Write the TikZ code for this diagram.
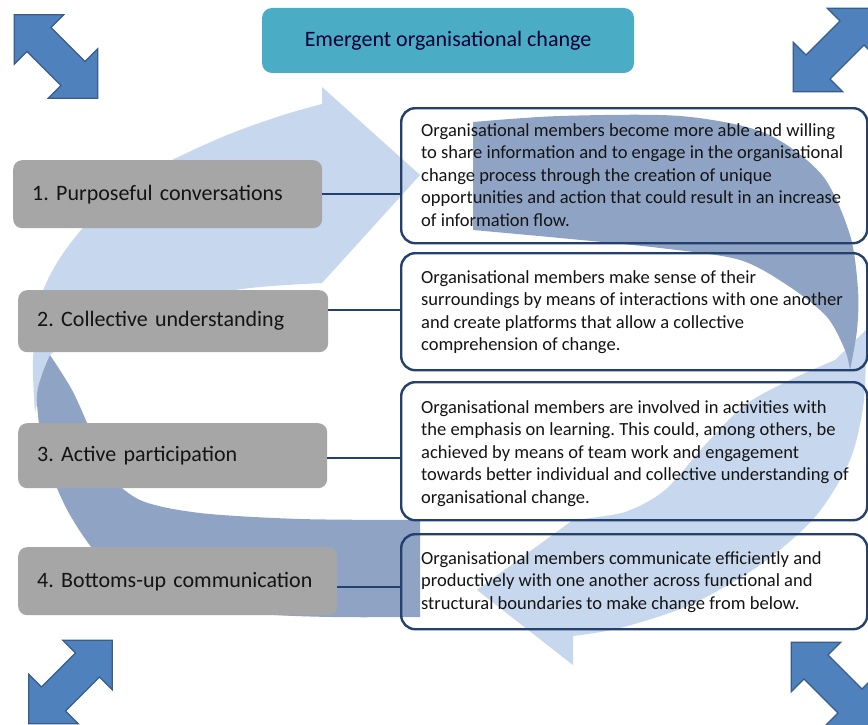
\documentclass[tikz,border=0pt]{standalone}
\usepackage{fontspec}
\setmainfont{Carlito}
\usepackage{xcolor}
\usetikzlibrary{positioning}
\definecolor{ringlight}{RGB}{198,215,238}
\definecolor{ringdark}{RGB}{143,164,197}
\definecolor{stagegray}{RGB}{166,166,166}
\definecolor{framenavy}{RGB}{36,64,108}
\definecolor{titleteal}{RGB}{75,172,198}
\definecolor{cornerblue}{RGB}{79,129,189}
\definecolor{cornerline}{RGB}{56,93,138}
\definecolor{inkdark}{RGB}{20,20,20}
\frenchspacing

\tikzset{
  dblarrow/.pic={
    \filldraw[fill=cornerblue,draw=cornerline,line width=1.2pt,line join=miter]
      (-59,0) -- (-24,35) -- (-24,17) -- (24,17) -- (24,35) -- (59,0)
      -- (24,-35) -- (24,-17) -- (-24,-17) -- (-24,-35) -- cycle;
  }
}

\begin{document}
\begin{tikzpicture}[x=1pt,y=-1pt,
  stagebox/.style={fill=stagegray,rounded corners=9pt,anchor=north west,
                   align=left,inner xsep=19pt,text=inkdark,
                   font=\fontsize{22}{26}\selectfont},
  detailbox/.style={draw=framenavy,line width=2.4pt,rounded corners=14pt,
                    anchor=north west,minimum width=466pt,inner sep=0pt},
  detailtext/.style={anchor=north west,align=left,inner sep=0pt,text=inkdark,
                     font=\fontsize{18.5}{22.5}\selectfont},
  titlebox/.style={fill=titleteal,rounded corners=10pt,minimum width=372pt,
                   minimum height=65pt,text=black!80!blue,
                   font=\fontsize{22}{26}\selectfont},
  link/.style={draw=framenavy,line width=1.6pt},
]
\fill[white] (0,0) rectangle (868,725);
\clip (0,0) rectangle (868,725);

% the loop behind everything: light halves first, dark inner faces on top
\fill[ringlight] (35,412) -- plot[smooth] coordinates {(35,412) (33,360) (40,300)
    (60,258) (95,215) (150,172) (220,138) (280,116) (322,104)}
  -- (322,87) -- (420,175) -- (322,283)
  -- plot[smooth] coordinates {(322,283) (250,288) (160,302) (90,325) (50,355)}
  -- cycle;
\fill[ringlight] (866,330) -- plot[smooth] coordinates {(866,330) (864,400)
    (850,460) (815,517) (760,565) (690,605) (620,628) (573,636)}
  -- (573,665) -- (477,590) -- (573,520)
  -- plot[smooth] coordinates {(573,520) (625,512) (665,490) (705,445)
    (745,405) (790,380) (835,360)}
  -- cycle;
\fill[ringdark] (473,122) -- (473,230)
  -- plot[smooth] coordinates {(473,230) (560,238) (660,248) (740,260)
    (790,287) (827,317) (845,350) (850,370)}
  -- plot[smooth] coordinates {(850,370) (857,330) (858,290) (850,235)
    (822,175) (765,133) (680,116) (560,116) (473,122)}
  -- cycle;
\fill[ringdark] (420,520) -- (420,617)
  -- plot[smooth] coordinates {(420,617) (330,617) (250,613) (170,598)
    (110,568) (70,515) (45,455) (37,395) (50,355)}
  -- plot[smooth] coordinates {(50,355) (72,390) (90,430) (105,470)
    (140,500) (200,513) (300,519) (420,520)}
  -- cycle;

% title
\node[titlebox] (title) at (448,40.5) {Emergent organisational change};

% stages on the left
\node[stagebox,text width=271pt,minimum height=68pt] (stage1) at (13,160)
  {1. Purposeful conversations};
\node[stagebox,text width=272pt,minimum height=62pt] (stage2) at (18,290)
  {2. Collective understanding};
\node[stagebox,text width=271pt,minimum height=65pt] (stage3) at (18,423)
  {3. Active participation};
\node[stagebox,text width=281pt,minimum height=68pt] (stage4) at (18,547)
  {4. Bottoms-up communication};

% detail frames on the right
\node[detailbox,minimum height=135pt] (detail1) at (400,107) {};
\node[detailbox,minimum height=117pt] (detail2) at (400,252) {};
\node[detailbox,minimum height=138pt] (detail3) at (400,381) {};
\node[detailbox,minimum height=95pt]  (detail4) at (400,533) {};

\node[detailtext] (text1) at (421,123) {Organisational members become more able and willing\\
  to share information and to engage in the organisational\\
  change process through the creation of unique\\
  opportunities and action that could result in an increase\\
  of information flow.};
\node[detailtext] (text2) at (421,270) {Organisational members make sense of their\\
  surroundings by means of interactions with one another\\
  and create platforms that allow a collective\\
  comprehension of change.};
\node[detailtext] (text3) at (421,400) {Organisational members are involved in activities with\\
  the emphasis on learning. This could, among others, be\\
  achieved by means of team work and engagement\\
  towards better individual and collective understanding of\\
  organisational change.};
\node[detailtext] (text4) at (421,551) {Organisational members communicate efficiently and\\
  productively with one another across functional and\\
  structural boundaries to make change from below.};

% connectors
\coordinate (j1) at (stage1.east);
\coordinate (j2) at ([yshift=11pt]stage2.east);
\coordinate (j3) at ([yshift=-2pt]stage3.east);
\coordinate (j4) at ([yshift=-6pt]stage4.east);
\draw[link] (j1) -- (j1 -| detail1.west);
\draw[link] (j2) -- (j2 -| detail2.west);
\draw[link] (j3) -- (j3 -| detail3.west);
\draw[link] (j4) -- (j4 -| detail4.west);

% corner arrows
\pic[rotate=-45] (cornerNW) at (56,56.5) {dblarrow};
\pic[rotate=45]  (cornerNE) at (835,50) {dblarrow};
\pic[rotate=45]  (cornerSW) at (70.5,682) {dblarrow};
\pic[rotate=-45] (cornerSE) at (833,684) {dblarrow};
\end{tikzpicture}
\end{document}
